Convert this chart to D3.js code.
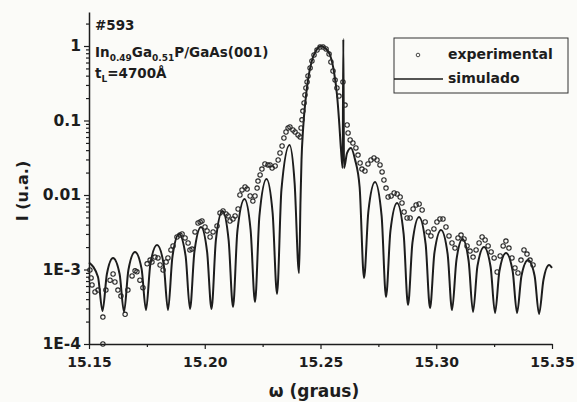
<!DOCTYPE html>
<html>
<head>
<meta charset="utf-8">
<script src="https://cdn.jsdelivr.net/npm/d3@7"></script>
<style>
  body { margin: 0; background: #fbfbf8; }
  svg { display: block; }
  text { font-family: "DejaVu Sans", sans-serif; font-weight: bold; fill: #1d1d1d; }
</style>
</head>
<body>
<div id="chart"></div>
<script>
const width = 577;
const height = 402;

// simulated rocking curve (omega in degrees, intensity in a.u.)
const simOmega = [
  15.15000, 15.15389, 15.15583, 15.15773, 15.16037, 15.16322, 15.16512, 15.16702, 15.16987, 15.17272,
  15.17462, 15.17652, 15.17938, 15.18223, 15.18413, 15.18603, 15.18888, 15.19173, 15.19363, 15.19553,
  15.19838, 15.20102, 15.20292, 15.20482, 15.20767, 15.21031, 15.21221, 15.21411, 15.21718, 15.21981,
  15.22171, 15.22361, 15.22668, 15.22932, 15.23122, 15.23312, 15.23662, 15.23882, 15.24072, 15.24137,
  15.24180, 15.24245, 15.24353, 15.24461, 15.24677, 15.24850, 15.25022, 15.25195, 15.25411, 15.25584,
  15.25714, 15.25800, 15.25886, 15.25956, 15.25986, 15.26016, 15.26146, 15.26318, 15.26491, 15.26690,
  15.26880, 15.27070, 15.27355, 15.27640, 15.27830, 15.28021, 15.28306, 15.28591, 15.28781, 15.28971,
  15.29256, 15.29541, 15.29731, 15.29921, 15.30206, 15.30492, 15.30682, 15.30872, 15.31135, 15.31399,
  15.31589, 15.31779, 15.32064, 15.32349, 15.32539, 15.32729, 15.33014, 15.33300, 15.33490, 15.33680,
  15.33965, 15.34250, 15.34440, 15.34630, 15.34872, 15.35000
];
const simI = [
  1.24e-3, 7.93e-4, 2.77e-4, 8.71e-4, 1.43e-3, 8.71e-4, 2.69e-4, 9.85e-4, 1.72e-3, 1.02e-3,
  2.86e-4, 1.19e-3, 2.13e-3, 1.19e-3, 2.86e-4, 1.47e-3, 3.00e-3, 1.52e-3, 2.95e-4, 1.72e-3,
  3.72e-3, 1.72e-3, 2.95e-4, 2.49e-3, 6.10e-3, 2.49e-3, 3.14e-4, 3.29e-3, 8.84e-3, 3.39e-3,
  3.66e-4, 5.23e-3, 1.64e-2, 5.73e-3, 4.69e-4, 1.17e-2, 4.69e-2, 1.45e-2, 8.98e-4, 8.57e-3,
  2.95e-2, 7.45e-2, 0.188, 0.350, 0.711, 0.91, 1.00, 0.94, 0.757, 0.448,
  0.220, 0.102, 0.0402, 0.0230, 1.24, 0.0230, 0.0366, 0.0428, 0.0300, 0.0128,
  7.69e-4, 6.10e-3, 1.49e-2, 5.23e-3, 4.28e-4, 3.29e-3, 7.81e-3, 3.00e-3, 3.34e-4, 2.27e-3,
  5.07e-3, 2.20e-3, 3.04e-4, 1.67e-3, 3.39e-3, 1.61e-3, 2.86e-4, 1.34e-3, 2.57e-3, 1.30e-3,
  2.69e-4, 1.11e-3, 2.00e-3, 1.08e-3, 2.61e-4, 9.55e-4, 1.67e-3, 9.55e-4, 2.61e-4, 8.19e-4,
  1.34e-3, 8.19e-4, 2.53e-4, 7.23e-4, 1.15e-3, 1.05e-3
];

// experimental points
const expOmega = [
  15.1504, 15.1509, 15.1513, 15.1526, 15.1539, 15.1560, 15.1560, 15.1573, 15.1591, 15.1604,
  15.1612, 15.1625, 15.1638, 15.1656, 15.1668, 15.1686, 15.1699, 15.1707, 15.1720, 15.1733,
  15.1751, 15.1764, 15.1772, 15.1785, 15.1798, 15.1807, 15.1820, 15.1833, 15.1841, 15.1854,
  15.1863, 15.1880, 15.1893, 15.1902, 15.1915, 15.1928, 15.1936, 15.1945, 15.1958, 15.1971,
  15.1980, 15.1988, 15.2001, 15.2010, 15.2023, 15.2036, 15.2053, 15.2066, 15.2079, 15.2092,
  15.2101, 15.2109, 15.2122, 15.2131, 15.2144, 15.2152, 15.2161, 15.2174, 15.2183, 15.2196,
  15.2208, 15.2217, 15.2226, 15.2230, 15.2239, 15.2247, 15.2260, 15.2273, 15.2282, 15.2291,
  15.2304, 15.2317, 15.2325, 15.2334, 15.2342, 15.2351, 15.2360, 15.2368, 15.2381, 15.2390,
  15.2403, 15.2412, 15.2416, 15.2420, 15.2424, 15.2429, 15.2433, 15.2437, 15.2442, 15.2446,
  15.2455, 15.2463, 15.2472, 15.2485, 15.2498, 15.2511, 15.2524, 15.2537, 15.2545, 15.2554,
  15.2563, 15.2571, 15.2580, 15.2597, 15.2606, 15.2615, 15.2619, 15.2628, 15.2640, 15.2653,
  15.2662, 15.2671, 15.2679, 15.2692, 15.2705, 15.2718, 15.2731, 15.2744, 15.2757, 15.2766,
  15.2774, 15.2783, 15.2792, 15.2805, 15.2818, 15.2831, 15.2844, 15.2852, 15.2861, 15.2874,
  15.2887, 15.2900, 15.2913, 15.2926, 15.2939, 15.2952, 15.2965, 15.2977, 15.2990, 15.3003,
  15.3016, 15.3029, 15.3042, 15.3055, 15.3068, 15.3081, 15.3094, 15.3107, 15.3120, 15.3133,
  15.3146, 15.3159, 15.3172, 15.3185, 15.3198, 15.3211, 15.3224, 15.3237, 15.3250, 15.3263,
  15.3276, 15.3289, 15.3301, 15.3314, 15.3327, 15.3340, 15.3353, 15.3366, 15.3379, 15.3392,
  15.3405, 15.3418
];
const expI = [
  9.85e-4, 7.7e-4, 6.2e-4, 5.0e-4, 5.3e-4, 2.3e-4, 1.0e-4, 5.3e-4, 7.2e-4, 8.7e-4,
  6.8e-4, 5.3e-4, 4.4e-4, 2.5e-4, 5.3e-4, 8.2e-4, 9.6e-4, 9.3e-4, 7.2e-4, 5.7e-4,
  1.19e-3, 1.34e-3, 1.26e-3, 1.47e-3, 1.43e-3, 1.15e-3, 9.85e-4, 1.26e-3, 1.43e-3, 1.83e-3,
  2.07e-3, 2.73e-3, 2.90e-3, 3.00e-3, 2.65e-3, 2.27e-3, 1.83e-3, 1.88e-3, 3.19e-3, 4.21e-3,
  4.34e-3, 4.48e-3, 3.72e-3, 3.29e-3, 2.73e-3, 3.19e-3, 3.84e-3, 5.73e-3, 6.10e-3, 5.56e-3,
  5.23e-3, 4.48e-3, 4.76e-3, 5.23e-3, 6.49e-3, 1.00e-2, 1.17e-2, 1.28e-2, 1.20e-2, 9.7e-3,
  8.3e-3, 9.7e-3, 1.24e-2, 1.54e-2, 1.86e-2, 2.23e-2, 2.61e-2, 2.53e-2, 2.53e-2, 2.30e-2,
  2.45e-2, 2.95e-2, 3.66e-2, 4.55e-2, 5.82e-2, 7.01e-2, 7.93e-2, 8.18e-2, 7.45e-2, 7.01e-2,
  6.39e-2, 6.01e-2, 7.93e-2, 0.102, 0.134, 0.172, 0.220, 0.273, 0.329, 0.396,
  0.507, 0.629, 0.757, 0.884, 0.970, 0.970, 0.911, 0.781, 0.610, 0.462,
  0.350, 0.273, 0.213, 0.329, 0.161, 0.0870, 0.0680, 0.0547, 0.0499, 0.0428,
  0.0344, 0.0269, 0.0223, 0.0210, 0.0261, 0.0295, 0.0314, 0.0295, 0.0253, 0.0204,
  0.0159, 0.0124, 0.0094, 0.0097, 0.01064, 0.01031, 0.0094, 0.00781, 0.00591, 0.00491,
  0.00491, 0.00649, 0.00734, 0.00757, 0.00629, 0.00434, 0.00319, 0.00282, 0.00350, 0.00434,
  0.00476, 0.00476, 0.00372, 0.00282, 0.00227, 0.00194, 0.00265, 0.00290, 0.00257, 0.00207,
  0.00177, 0.00147, 0.00183, 0.00227, 0.00273, 0.00249, 0.00207, 0.00172, 0.00143, 0.000925,
  0.00152, 0.00207, 0.00241, 0.00194, 0.00143, 0.00105, 0.000898, 0.00134, 0.00183, 0.00161,
  0.00134, 0.00115
];

const xTicks = [15.15, 15.20, 15.25, 15.30, 15.35];
const xTickLabels = ["15.15", "15.20", "15.25", "15.30", "15.35"];
const xMinor = [15.175, 15.225, 15.275, 15.325];
const yTicks = [1e-4, 1e-3, 0.01, 0.1, 1];
const yTickLabels = ["1E-4", "1E-3", "0.01", "0.1", "1"];
const legendLabels = ["experimental", "simulado"];

const ink = "#1d1d1d";

const svg = d3.select("div#chart")
  .append("svg")
  .attr("width", width)
  .attr("height", height);

const x = d3.scaleLinear().domain([15.15, 15.35]).range([89, 552]);
const y = d3.scaleLog().domain([1e-4, 2.86]).range([344, 12]);

// minor log ticks 2..9 in every decade
const yMinor = [];
[1e-4, 1e-3, 1e-2, 1e-1, 1].forEach(function(dec) {
  for (let k = 2; k <= 9; k++) {
    if (k * dec <= 2.86) yMinor.push(k * dec);
  }
});

// x axis
const xAxis = svg.append("g")
  .attr("transform", "translate(0,344)")
  .call(d3.axisBottom(x).tickValues(xTicks)
    .tickFormat(function(d, i) { return xTickLabels[i]; })
    .tickSize(5).tickSizeOuter(0).tickPadding(8));
svg.append("g")
  .attr("transform", "translate(0,344)")
  .call(d3.axisBottom(x).tickValues(xMinor).tickFormat("").tickSize(3).tickSizeOuter(0))
  .select(".domain").remove();

// y axis
const yAxis = svg.append("g")
  .attr("transform", "translate(89,0)")
  .call(d3.axisLeft(y).tickValues(yTicks)
    .tickFormat(function(d, i) { return yTickLabels[i]; })
    .tickSize(5).tickSizeOuter(0).tickPadding(3));
svg.append("g")
  .attr("transform", "translate(89,0)")
  .call(d3.axisLeft(y).tickValues(yMinor).tickFormat("").tickSize(3).tickSizeOuter(0))
  .select(".domain").remove();

svg.selectAll(".domain").attr("stroke", ink).attr("stroke-width", 1.5);
svg.selectAll(".tick line").attr("stroke", ink).attr("stroke-width", 1.2);
xAxis.selectAll(".tick text").attr("font-size", 14).attr("fill", ink)
  .style("font-family", "DejaVu Sans").style("font-weight", "bold");
yAxis.selectAll(".tick text").attr("font-size", 15.5).attr("fill", ink)
  .style("font-family", "DejaVu Sans").style("font-weight", "bold");

// axis titles
svg.append("text")
  .attr("transform", "translate(28,191) rotate(-90)")
  .attr("text-anchor", "middle")
  .attr("font-size", 16)
  .text("I (u.a.)");

svg.append("text")
  .attr("x", 314)
  .attr("y", 397)
  .attr("text-anchor", "middle")
  .attr("font-size", 17)
  .text("\u03c9 (graus)");

// simulated curve
const idx = d3.range(simOmega.length);
const line = d3.line()
  .x(function(i) { return x(simOmega[i]); })
  .y(function(i) { return y(simI[i]); })
  .curve(d3.curveMonotoneX);

svg.append("path")
  .attr("d", line(idx))
  .attr("fill", "none")
  .attr("stroke", ink)
  .attr("stroke-width", 2)
  .attr("stroke-linejoin", "round");

// experimental circles
svg.append("g")
  .selectAll("circle")
  .data(d3.range(expOmega.length))
  .enter()
  .append("circle")
  .attr("cx", function(i) { return x(expOmega[i]); })
  .attr("cy", function(i) { return y(expI[i]); })
  .attr("r", 2.2)
  .attr("fill", "none")
  .attr("stroke", "#262626")
  .attr("stroke-width", 1.1);

// sample annotation
const note = svg.append("g").attr("font-size", 13.5);
note.append("text").attr("x", 95).attr("y", 30).text("#593");
const t2 = note.append("text").attr("x", 95).attr("y", 57);
t2.append("tspan").text("In");
t2.append("tspan").attr("font-size", 9).attr("dy", 4).text("0.49");
t2.append("tspan").attr("dy", -4).text("Ga");
t2.append("tspan").attr("font-size", 9).attr("dy", 4).text("0.51");
t2.append("tspan").attr("dy", -4).text("P/GaAs(001)");
const t3 = note.append("text").attr("x", 95).attr("y", 78);
t3.append("tspan").text("t");
t3.append("tspan").attr("font-size", 9).attr("dy", 4).text("L");
t3.append("tspan").attr("dy", -4).text("=4700\u00c5");

// legend
const legend = svg.append("g");
legend.append("rect")
  .attr("x", 394).attr("y", 38)
  .attr("width", 174).attr("height", 55)
  .attr("fill", "none")
  .attr("stroke", "#333")
  .attr("stroke-width", 1);
legend.append("circle")
  .attr("cx", 418).attr("cy", 55).attr("r", 1.8)
  .attr("fill", "none").attr("stroke", "#333").attr("stroke-width", 0.9);
legend.append("line")
  .attr("x1", 394).attr("x2", 443)
  .attr("y1", 79).attr("y2", 79)
  .attr("stroke", ink).attr("stroke-width", 1.5);
legend.selectAll("text.lg")
  .data(legendLabels)
  .enter()
  .append("text")
  .attr("class", "lg")
  .attr("x", 448)
  .attr("y", function(d, i) { return 59 + i * 24; })
  .attr("font-size", 14)
  .text(function(d) { return d; });
</script>
</body>
</html>
